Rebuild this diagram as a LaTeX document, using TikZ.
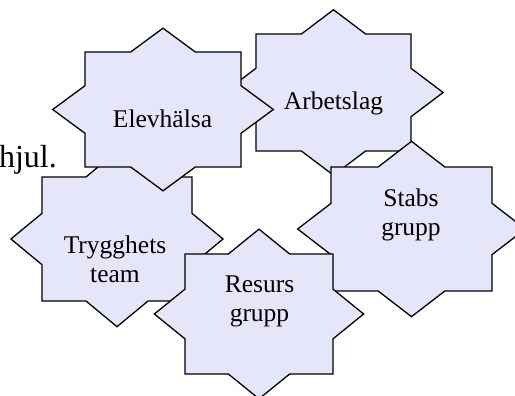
\documentclass[tikz,border=0pt]{standalone}
\usepackage{fontspec}
\setmainfont{Liberation Serif}
\definecolor{starfill}{RGB}{230,230,250}
\tikzset{
  starbox/.style={draw=black, fill=starfill, line width=1.3pt, line join=miter},
  startext/.style={inner sep=0pt, anchor=base, font=\fontsize{25.5}{29.5}\selectfont},
}
% \eightstar{name}{cx}{cy}{half width of square}{half height of square}
\newcommand\eightstar[5]{%
  \draw[starbox] ({#2},{#3-#5*1.41421})
    -- ({#2+#4*0.41421},{#3-#5}) -- ({#2+#4},{#3-#5})
    -- ({#2+#4},{#3-#5*0.41421}) -- ({#2+#4*1.41421},{#3})
    -- ({#2+#4},{#3+#5*0.41421}) -- ({#2+#4},{#3+#5})
    -- ({#2+#4*0.41421},{#3+#5}) -- ({#2},{#3+#5*1.41421})
    -- ({#2-#4*0.41421},{#3+#5}) -- ({#2-#4},{#3+#5})
    -- ({#2-#4},{#3+#5*0.41421}) -- ({#2-#4*1.41421},{#3})
    -- ({#2-#4},{#3-#5*0.41421}) -- ({#2-#4},{#3-#5})
    -- ({#2-#4*0.41421},{#3-#5}) -- cycle;
  \coordinate (#1) at ({#2},{#3});%
}
\begin{document}
\begin{tikzpicture}[x=1pt, y=-1pt]
\useasboundingbox (0,0) rectangle (515,396);
\clip (0,0) rectangle (515,396);
\node[inner sep=0pt, anchor=base east, font=\fontsize{32}{36}\selectfont] (hjul) at (57,167.5) {hjul.};
\eightstar{sArb}{333.5}{92.5}{77.5}{58.5}
\node[startext] (tArb) at (333.5,110) {Arbetslag};
\eightstar{sTry}{117}{239}{75}{62}
\node[startext] (tTry) at (115,253) {\begin{tabular}[t]{@{}c@{}}Trygghets\\team\end{tabular}};
\eightstar{sElev}{163}{109.5}{78}{57.5}
\node[startext] (tElev) at (162.5,127.3) {Elevhälsa};
\eightstar{sStab}{411.5}{229}{80.5}{62}
\node[startext] (tStab) at (411,206) {\begin{tabular}[t]{@{}c@{}}Stabs\\grupp\end{tabular}};
\eightstar{sRes}{259}{314}{74}{60}
\node[startext] (tRes) at (259.5,292) {\begin{tabular}[t]{@{}c@{}}Resurs\\grupp\end{tabular}};
\end{tikzpicture}
\end{document}
